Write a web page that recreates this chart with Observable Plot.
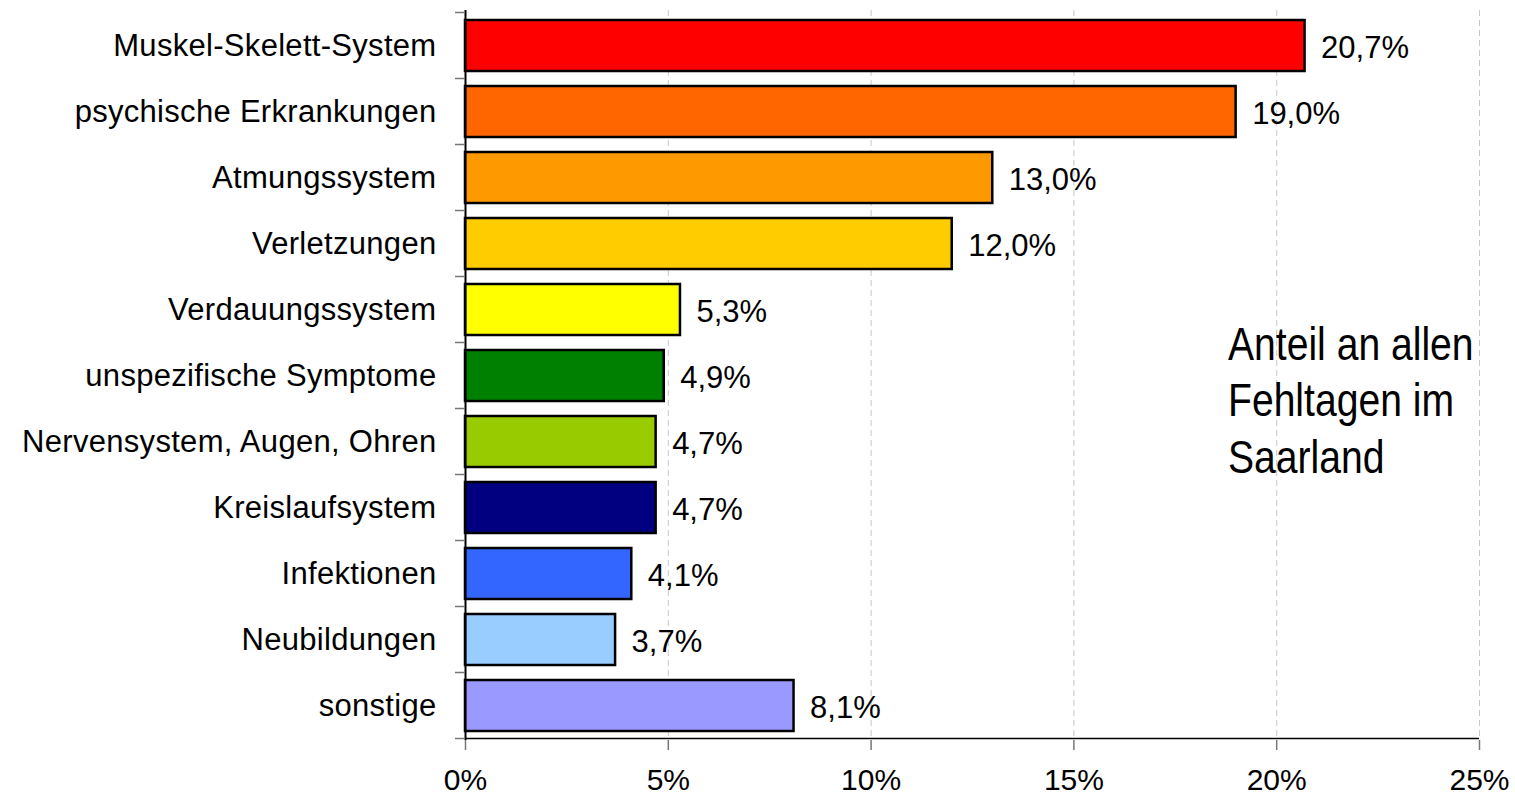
<!DOCTYPE html>
<html>
<head>
<meta charset="utf-8">
<script src="https://cdn.jsdelivr.net/npm/d3@7"></script>
<script src="https://cdn.jsdelivr.net/npm/@observablehq/plot@0.6"></script>
<style>
  html, body { margin: 0; padding: 0; background: white; }
  #chart svg [aria-label="y-axis tick label"] text { letter-spacing: 0.3px; }
</style>
</head>
<body>
<div id="chart"></div>
<script>
const categories = [
  "Muskel-Skelett-System",
  "psychische Erkrankungen",
  "Atmungssystem",
  "Verletzungen",
  "Verdauungssystem",
  "unspezifische Symptome",
  "Nervensystem, Augen, Ohren",
  "Kreislaufsystem",
  "Infektionen",
  "Neubildungen",
  "sonstige"
];
const shares = [0.207, 0.190, 0.130, 0.120, 0.053, 0.049, 0.047, 0.047, 0.041, 0.037, 0.081];
const colors = ["#FF0000", "#FF6600", "#FF9900", "#FFCC00", "#FFFF00", "#008000", "#99CC00", "#000080", "#3366FF", "#99CCFF", "#9999FF"];
const xTicks = [0, 0.05, 0.10, 0.15, 0.20, 0.25];
const xDomain = [0, 0.25];
const annotationText = "Anteil an allen\nFehltagen im\nSaarland";
const annotationX = 0.188;

const data = categories.map((c, i) => ({cat: c, value: shares[i]}));
const fmtValue = v => (v * 100).toFixed(1).replace(".", ",") + "%";
const fmtTick = v => Math.round(v * 100) + "%";

function axisDecor(index, scales, values, dims) {
  const y = scales.y, x = scales.x;
  const st = y.step ? y.step() : (dims.height - dims.marginTop - dims.marginBottom) / categories.length;
  const gap = st - y.bandwidth();
  const ys = y.domain().map(d => y(d) - gap / 2);
  ys.push(ys[ys.length - 1] + st);
  const g = d3.create("svg:g");
  g.selectAll("line.tk").data(ys).join("line")
    .attr("class", "tk")
    .attr("x1", x(0) - 10).attr("x2", x(0))
    .attr("y1", d => d).attr("y2", d => d)
    .attr("stroke", "#777").attr("stroke-width", 1.5);
  const yb = ys[ys.length - 1];
  g.append("line")
    .attr("x1", x(xDomain[0])).attr("x2", x(xDomain[1]))
    .attr("y1", yb).attr("y2", yb)
    .attr("stroke", "black").attr("stroke-width", 1.5);
  return g.node();
}

const chart = Plot.plot({
  width: 1515,
  height: 795,
  marginTop: 10,
  marginBottom: 55,
  marginLeft: 465,
  marginRight: 36,
  style: {fontFamily: "'Liberation Sans', Arial, sans-serif", background: "white", color: "black", overflow: "visible"},
  x: {domain: xDomain, nice: false},
  y: {domain: categories, paddingInner: 0.23, paddingOuter: 0.115},
  color: {domain: categories, range: colors},
  marks: [
    Plot.gridX({ticks: xTicks, stroke: "#c8c8c8", strokeOpacity: 1, strokeWidth: 1, strokeDasharray: "6,4"}),
    Plot.barX(data, {x: "value", y: "cat", fill: "cat", stroke: "black", strokeWidth: 2.5}),
    Plot.ruleX([0], {stroke: "black", strokeWidth: 2}),
    axisDecor,
    Plot.axisX({ticks: xTicks, tickFormat: fmtTick, tickSize: 10, tickPadding: 18, fontSize: 30, stroke: "#777", strokeWidth: 1.5, fill: "black", label: null}),
    Plot.axisY({tickSize: 0, tickPadding: 29, fontSize: 31, fill: "black", label: null}),
    Plot.text(data, {x: "value", y: "cat", text: d => fmtValue(d.value), textAnchor: "start", dx: 16, dy: 2, fontSize: 31, fill: "black"}),
    Plot.text([annotationText], {x: () => annotationX, frameAnchor: "top", lineAnchor: "top", dy: 309, textAnchor: "start", fontSize: 46, lineHeight: 1.23, fill: "black"})
  ]
});
document.getElementById("chart").appendChild(chart);

// condense the annotation horizontally (narrow typeface in the original)
const ax = chart.scale("x").apply(annotationX);
d3.select(chart).selectAll("text")
  .filter(function() { return this.textContent.startsWith("Anteil"); })
  .each(function() {
    const g = this.parentNode;
    const prev = g.getAttribute("transform") || "";
    g.setAttribute("transform", `${prev} translate(${ax},0) scale(0.85,1) translate(${-ax},0)`);
  });
</script>
</body>
</html>
